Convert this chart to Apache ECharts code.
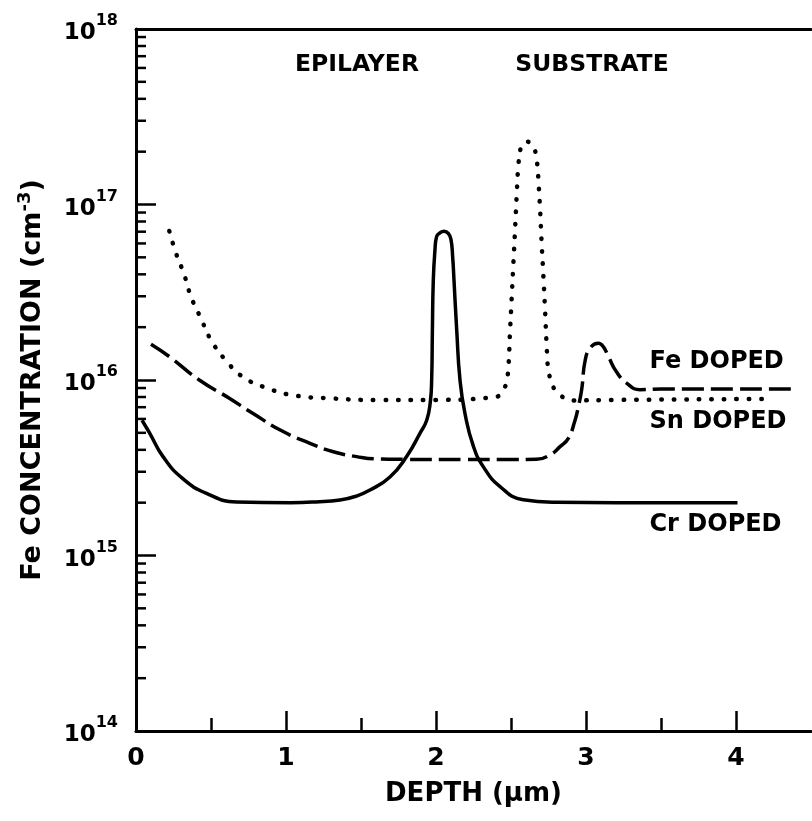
<!DOCTYPE html>
<html><head><meta charset="utf-8">
<script src="https://cdn.jsdelivr.net/npm/echarts@6/dist/echarts.min.js"></script>
<style>html,body{margin:0;padding:0;background:#fff}#c{width:812px;height:821px}</style>
</head><body><div id="c"></div>
<script>
// ---- data ----
const crDepth = [0.04,0.09,0.18,0.31,0.47,0.67,1.03,1.2,1.36,1.47,1.56,1.693,1.804,1.893,1.938,1.962,1.971,1.976,1.982,1.993,2.004,2.027,2.053,2.082,2.1,2.111,2.12,2.138,2.16,2.193,2.249,2.316,2.427,2.582,2.8,3.2,4.01];
const crConc  = [5.9e15,5.0e15,3.66e15,2.75e15,2.26e15,2.02e15,2.0e15,2.02e15,2.07e15,2.18e15,2.36e15,2.8e15,3.66e15,4.97e15,5.9e15,7.5e15,1.0e16,1.93e16,3.71e16,5.5e16,6.56e16,6.9e16,7.05e16,6.85e16,6.3e16,5.05e16,3.7e16,1.93e16,1.0e16,6.45e15,4.2e15,3.2e15,2.47e15,2.08e15,2.01e15,2.0e15,2.0e15];

const feDepth = [0.1,0.222,0.422,0.622,0.778,0.978,1.16,1.316,1.471,1.604,1.8,2.2,2.5,2.67,2.76,2.827,2.882,2.927,2.949,2.971,2.995,3.03,3.082,3.115,3.149,3.204,3.271,3.36,3.5,4.41];
const feConc  = [1.6e16,1.36e16,1.0e16,7.87e15,6.46e15,5.1e15,4.36e15,3.9e15,3.66e15,3.55e15,3.53e15,3.52e15,3.52e15,3.53e15,3.74e15,4.17e15,4.65e15,5.9e15,7.05e15,8.8e15,1.3e16,1.53e16,1.62e16,1.55e16,1.36e16,1.11e16,9.6e15,8.8e15,8.9e15,8.9e15];

const snDepth = [0.222,0.267,0.322,0.367,0.433,0.5,0.6,0.718,0.878,1.044,1.289,1.62,2.0,2.393,2.449,2.471,2.482,2.493,2.504,2.516,2.527,2.538,2.55,2.565,2.585,2.604,2.625,2.65,2.665,2.675,2.684,2.693,2.704,2.716,2.727,2.738,2.749,2.771,2.804,2.916,3.2,4.18];
const snConc  = [7.06e16,5.27e16,3.97e16,2.98e16,2.24e16,1.69e16,1.29e16,1.035e16,8.97e15,8.2e15,7.87e15,7.69e15,7.7e15,8.0e15,8.8e15,1.0e16,1.16e16,1.85e16,2.86e16,4.62e16,7.15e16,1.13e17,1.7e17,2.1e17,2.25e17,2.28e17,2.25e17,2.12e17,1.95e17,1.7e17,1.32e17,9.7e16,6.1e16,3.88e16,2.5e16,1.55e16,1.14e16,9.8e15,8.6e15,7.65e15,7.7e15,7.8e15];

const seriesNames = ['Fe DOPED','Sn DOPED','Cr DOPED'];
const regionNames = ['EPILAYER','SUBSTRATE'];
const xTickLabels = ['0','1','2','3','4'];
const yDecadeExponents = [14,15,16,17,18];
const yMinorMantissas = [2,3,4,5,6,7,8,9];
const xName = 'DEPTH (\u03bcm)';
const yNameMain = 'Fe CONCENTRATION (cm';
const yNameSup = '-3';

// ---- build ----
const pairs = (xs, ys) => xs.map((x, i) => [x, ys[i]]);
const minorTickValues = [];
yDecadeExponents.slice(0, -1).forEach(e => yMinorMantissas.forEach(m => minorTickValues.push(m * Math.pow(10, e))));

const FONT = 'DejaVu Sans';
const labelStyle = { fontFamily: FONT, fontWeight: 'bold', fontSize: 24, color: '#000' };

const chart = echarts.init(document.getElementById('c'), null, { renderer: 'canvas' });
chart.setOption({
  animation: false,
  backgroundColor: '#fff',
  grid: { left: 136, top: 29, right: 1, bottom: 90, containLabel: false },
  xAxis: [{
    type: 'value', min: 0, max: 4.5, interval: 1, position: 'bottom',
    name: xName, nameLocation: 'middle', nameGap: 50,
    nameTextStyle: { fontFamily: FONT, fontWeight: 'bold', fontSize: 26, color: '#000' },
    axisLine: { show: true, onZero: false, lineStyle: { color: '#000', width: 3 } },
    axisTick: { show: true, inside: true, length: 20, lineStyle: { color: '#000', width: 2.5 }, customValues: [0,1,2,3,4] },
    minorTick: { show: true, splitNumber: 2, length: 13, lineStyle: { color: '#000', width: 2.5 } },
    axisLabel: { margin: 15, fontFamily: FONT, fontWeight: 'bold', fontSize: 25, color: '#000',
      customValues: [0,1,2,3,4], formatter: v => xTickLabels[Math.round(v)] },
    splitLine: { show: false }
  }, {
    type: 'value', min: 0, max: 4.5, position: 'top',
    axisLine: { show: true, onZero: false, lineStyle: { color: '#000', width: 3 } },
    axisTick: { show: false }, axisLabel: { show: false }, splitLine: { show: false }
  }],
  yAxis: {
    type: 'log', logBase: 10, min: 1e14, max: 1e18, interval: 1,
    name: '{a|' + yNameMain + '}{s|' + yNameSup + '}{a|)}',
    nameLocation: 'middle', nameGap: 90,
    nameTextStyle: { rich: {
      a: { fontFamily: FONT, fontWeight: 'bold', fontSize: 27, color: '#000', lineHeight: 30, verticalAlign: 'bottom' },
      s: { fontFamily: FONT, fontWeight: 'bold', fontSize: 18, color: '#000', lineHeight: 18, verticalAlign: 'top' }
    } },
    axisLine: { show: true, onZero: false, lineStyle: { color: '#000', width: 3 } },
    axisTick: { show: true, inside: true, length: 20, lineStyle: { color: '#000', width: 2.5 } },
    axisLabel: {
      margin: 18,
      formatter: v => '{b|10}{s|' + Math.round(Math.log10(v)) + '}',
      rich: {
        b: { fontFamily: FONT, fontWeight: 'bold', fontSize: 23, color: '#000', lineHeight: 32, verticalAlign: 'bottom' },
        s: { fontFamily: FONT, fontWeight: 'bold', fontSize: 16, color: '#000', lineHeight: 16, verticalAlign: 'top' }
      }
    },
    splitLine: { show: false }
  },
  series: [
    {
      name: seriesNames[2], type: 'line', data: pairs(crDepth, crConc), showSymbol: false,
      smooth: 0.5, lineStyle: { color: '#000', width: 3.5 },
      markPoint: {
        symbol: 'circle', symbolSize: 1, itemStyle: { color: 'rgba(0,0,0,0)' },
        label: Object.assign({ show: true, position: 'right', distance: 0, formatter: seriesNames[2] }, labelStyle),
        data: [{ coord: [3.42, 1.49e15] }]
      }
    },
    {
      name: seriesNames[0], type: 'line', data: pairs(feDepth, feConc), showSymbol: false,
      smooth: 0.5, lineStyle: { color: '#000', width: 3.5, type: [22, 7] },
      markPoint: {
        symbol: 'circle', symbolSize: 1, itemStyle: { color: 'rgba(0,0,0,0)' },
        label: Object.assign({ show: true, position: 'right', distance: 0, formatter: seriesNames[0] }, labelStyle),
        data: [{ coord: [3.42, 1.27e16] }]
      }
    },
    {
      name: seriesNames[1], type: 'line', data: pairs(snDepth, snConc), showSymbol: false,
      smooth: 0.5, lineStyle: { color: '#000', width: 4.5, type: [0.5, 12], cap: 'round' },
      markPoint: {
        symbol: 'circle', symbolSize: 1, itemStyle: { color: 'rgba(0,0,0,0)' },
        label: Object.assign({ show: true, position: 'right', distance: 0, formatter: seriesNames[1] }, labelStyle),
        data: [{ coord: [3.42, 5.77e15] }]
      }
    },
    {
      type: 'custom', silent: true, clip: false,
      data: minorTickValues.map(v => [0, v]),
      renderItem: (params, api) => {
        const p = api.coord([0, api.value(1)]);
        return { type: 'line', shape: { x1: p[0], y1: p[1], x2: p[0] + 10, y2: p[1] },
                 style: { stroke: '#000', lineWidth: 2.5 } };
      }
    },
    {
      type: 'scatter', data: [], silent: true,
      markPoint: {
        symbol: 'circle', symbolSize: 1, itemStyle: { color: 'rgba(0,0,0,0)' },
        label: Object.assign({ show: true, position: 'inside', formatter: p => p.name }, labelStyle, { fontSize: 23.5 }),
        data: [{ name: regionNames[0], coord: [1.473, 6.24e17] }, { name: regionNames[1], coord: [3.04, 6.24e17] }]
      }
    }
  ]
});
</script></body></html>
